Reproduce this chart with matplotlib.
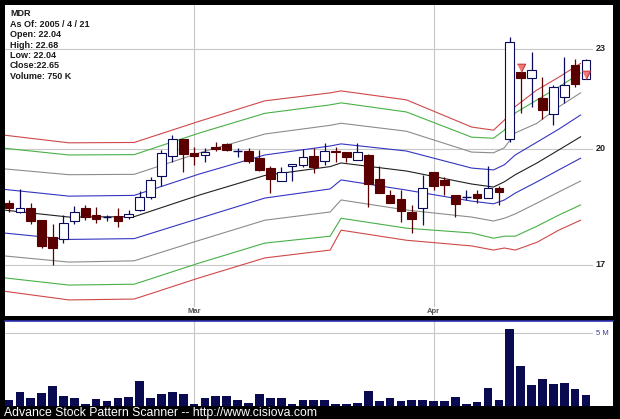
import matplotlib
matplotlib.use("Agg")
import matplotlib.pyplot as plt
import numpy as np

# daily bars, 2005-02-03 .. 2005-04-21
opens = [18.54, 18.29, 18.39, 18.09, 17.66, 17.61, 18.06, 18.39, 18.23, 18.16,
         18.20, 18.17, 18.34, 18.68, 19.24, 19.80, 20.26, 19.88, 19.82, 20.05,
         20.13, 19.94, 19.94, 19.73, 19.45, 19.12, 19.52, 19.54, 19.78, 19.65,
         19.94, 19.89, 19.68, 19.82, 19.16, 18.74, 18.63, 18.31, 18.39, 19.34,
         19.14, 18.74, 18.69, 18.77, 18.65, 18.92, 20.26, 22.25, 22.07, 21.47,
         20.99, 21.50, 22.48, 22.04]
highs = [18.61, 18.89, 18.54, 18.10, 17.99, 18.23, 18.45, 18.48, 18.43, 18.23,
         18.41, 18.36, 18.85, 19.23, 19.96, 20.38, 20.27, 20.05, 20.01, 20.19,
         20.15, 20.01, 20.01, 19.96, 19.52, 19.48, 19.57, 19.98, 20.01, 20.15,
         20.04, 19.90, 20.15, 19.85, 19.51, 18.86, 18.87, 18.49, 19.27, 19.34,
         19.21, 18.75, 18.87, 18.86, 19.52, 18.97, 23.39, 22.26, 22.88, 22.12,
         21.86, 22.72, 22.66, 22.68]
lows = [18.30, 18.28, 17.99, 17.39, 17.00, 17.53, 18.00, 18.09, 18.02, 18.07,
        17.91, 18.13, 18.32, 18.63, 18.98, 19.63, 19.36, 19.54, 19.63, 19.94,
        19.93, 19.76, 19.61, 19.39, 18.80, 19.11, 19.12, 19.50, 19.32, 19.55,
        19.63, 19.63, 19.67, 18.42, 18.80, 18.52, 18.04, 17.76, 17.97, 18.87,
        18.74, 18.16, 18.61, 18.52, 18.65, 18.48, 20.19, 21.01, 21.21, 20.83,
        20.67, 21.31, 21.81, 22.04]
closes = [18.39, 18.39, 18.08, 17.45, 17.41, 18.01, 18.29, 18.18, 18.12, 18.16,
          18.08, 18.25, 18.69, 19.14, 19.87, 20.26, 19.84, 19.80, 19.89, 20.00,
          19.96, 19.94, 19.66, 19.41, 19.16, 19.36, 19.56, 19.76, 19.50, 19.94,
          19.89, 19.76, 19.89, 19.03, 18.80, 18.54, 18.32, 18.12, 18.92, 18.99,
          19.00, 18.50, 18.69, 18.65, 18.92, 18.81, 23.23, 22.07, 22.33, 21.11,
          21.81, 21.86, 21.89, 22.65]
volume_m = [0.43, 0.93, 0.52, 0.86, 1.36, 0.67, 0.52, 0.17, 0.48, 0.31,
            0.52, 0.64, 1.71, 0.57, 0.83, 0.93, 0.83, 0.17, 0.52, 0.69,
            0.71, 0.43, 0.19, 0.79, 0.57, 0.57, 0.12, 0.43, 0.38, 0.43,
            0.17, 0.12, 0.21, 1.00, 0.33, 0.57, 0.33, 0.43, 0.38, 0.36,
            0.31, 0.64, 0.12, 0.29, 1.21, 0.38, 5.29, 2.71, 1.43, 1.83,
            1.52, 1.57, 1.19, 0.75]
signal_bars = [48, 54]

# envelope lines, read at these bars
band_bars = [1, 7, 13, 19, 25, 31, 32, 38, 44, 46, 47, 48, 50, 52, 54]
red_up = [20.38, 20.16, 20.17, 20.78, 21.38, 21.62, 21.68, 21.41, 20.61, 20.52, 20.81, 21.21, 21.71, 22.10, 22.53]
green_up = [20.01, 19.82, 19.83, 20.44, 21.01, 21.26, 21.32, 21.05, 20.32, 20.29, 20.52, 21.02, 21.41, 21.80, 22.23]
gray_up = [19.44, 19.28, 19.29, 19.88, 20.41, 20.66, 20.72, 20.49, 19.90, 19.88, 20.02, 20.44, 20.72, 21.20, 21.62]
blue_up = [18.89, 18.71, 18.73, 19.30, 19.82, 20.07, 20.13, 19.93, 19.46, 19.41, 19.55, 19.82, 20.18, 20.55, 20.96]
center = [18.35, 18.17, 18.18, 18.74, 19.26, 19.50, 19.60, 19.38, 19.03, 18.95, 19.09, 19.28, 19.60, 19.96, 20.33]
blue_dn = [17.77, 17.61, 17.63, 18.14, 18.66, 18.90, 19.14, 18.87, 18.58, 18.51, 18.61, 18.79, 19.09, 19.41, 19.73]
gray_dn = [17.21, 17.06, 17.09, 17.59, 18.09, 18.30, 18.61, 18.35, 18.17, 18.07, 18.14, 18.25, 18.53, 18.82, 19.11]
green_dn = [16.69, 16.52, 16.54, 17.04, 17.52, 17.69, 18.14, 17.89, 17.77, 17.64, 17.69, 17.69, 17.94, 18.22, 18.48]
red_dn = [16.38, 16.18, 16.20, 16.69, 17.16, 17.35, 17.84, 17.59, 17.45, 17.35, 17.40, 17.35, 17.54, 17.84, 18.09]

price_ticks = [17, 20, 23]
month_bars = [18, 40]
month_labels = ["Mar", "Apr"]

W, H = 620, 419
fig = plt.figure(figsize=(W / 100, H / 100), dpi=100, facecolor="black")

def box(l, t, r, b):
    return [l / W, 1 - b / H, (r - l) / W, (b - t) / H]

ax = fig.add_axes(box(5, 5, 613, 316))
vax = fig.add_axes(box(5, 321, 613, 406))

x = np.arange(1, len(closes) + 1)
xmin = 1 - 4 / 10.887
xmax = xmin + 608 / 10.887

ax.set_yscale("log")
ax.set_ylim(15.82, 24.45)
for a in (ax, vax):
    a.set_facecolor("white")
    a.set_xlim(xmin, xmax)
    a.minorticks_off()
    a.tick_params(which="both", left=False, bottom=False,
                  labelleft=False, labelbottom=False)
    for s in a.spines.values():
        s.set_visible(False)

grid_c = "#c8c8c8"
xr = xmin + 587 / 10.887
for p in price_ticks:
    ax.plot([xmin, xr], [p, p], color=grid_c, lw=0.8, zorder=0)
    ax.text(xr + 0.35, p, str(p), fontsize=6.5, fontweight="bold",
            color="#222222", va="center", ha="left", family="Liberation Sans")
for b, lab in zip(month_bars, month_labels):
    ax.plot([b, b], [16.05, 24.45], color=grid_c, lw=0.8, zorder=0)
    ax.text(b, 15.93, lab, fontsize=5.5, fontweight="bold", color="#555555",
            ha="center", va="center", family="Liberation Sans")
    vax.axvline(b, color=grid_c, lw=0.8, zorder=0)

bx = np.array(band_bars) - 0.5
band_styles = [(red_up, "#d04848"), (green_up, "#48b048"), (gray_up, "#8c8c8c"),
               (blue_up, "#3535c0"), (center, "#202020"), (blue_dn, "#3535c0"),
               (gray_dn, "#8c8c8c"), (green_dn, "#48b048"), (red_dn, "#d04848")]
for vals, c in band_styles:
    ax.plot(bx, vals, color=c, lw=0.8, zorder=1)

up_c, dn_c = "#0a0a5a", "#5a0000"
o, h, l, c = map(np.array, (opens, highs, lows, closes))
for i in range(len(x)):
    if c[i] > o[i]:
        col, face = up_c, "white"
    elif c[i] < o[i]:
        col, face = dn_c, dn_c
    else:
        col, face = up_c, up_c
    ax.vlines(x[i], l[i], h[i], color=col, lw=0.9, zorder=2)
    if c[i] == o[i]:
        ax.hlines(o[i], x[i] - 0.4, x[i] + 0.4, color=col, lw=1.0, zorder=3)
    else:
        ax.bar(x[i], abs(c[i] - o[i]), bottom=min(o[i], c[i]), width=0.8,
               color=face, edgecolor=col, lw=0.8, zorder=3)

tri = [(-0.5, 1), (0.5, 1), (0, 0)]
for b in signal_bars:
    ax.plot(b, opens[b - 1], marker=tri, markersize=12, color="#f07878",
            markeredgecolor="#c03030", markeredgewidth=0.7, zorder=4)

info = ["MDR", "As Of: 2005 / 4 / 21", "Open: 22.04", "High: 22.68",
        "Low: 22.04", "Close:22.65", "Volume: 750 K"]
for k, t in enumerate(info):
    fig.text(10 / W, 1 - (14 + k * 10.4) / H, t, fontsize=6.5, fontweight="bold",
             color="#1a1a1a", va="center", family="Liberation Sans")

# volume panel
vax.set_ylim(0, 5.83)
vax.bar(x, volume_m, width=0.8, color="#0a0a50", zorder=2)
vax.plot([xmin, xr], [5, 5], color=grid_c, lw=0.8, zorder=0)
vax.text(xr + 0.4, 5, "5 M", fontsize=5.5, color="#3a3aa0", va="center",
         ha="left", family="Liberation Sans")
vax.spines["top"].set_visible(True)
vax.spines["top"].set_color("#3030b0")
vax.spines["top"].set_linewidth(1.2)

fig.text(4 / W, 1 - 412.5 / H, "Advance Stock Pattern Scanner -- http://www.cisiova.com",
         fontsize=8.8, color="white", va="center", family="Liberation Sans")

fig.savefig("out.png", dpi=100, facecolor="black")
